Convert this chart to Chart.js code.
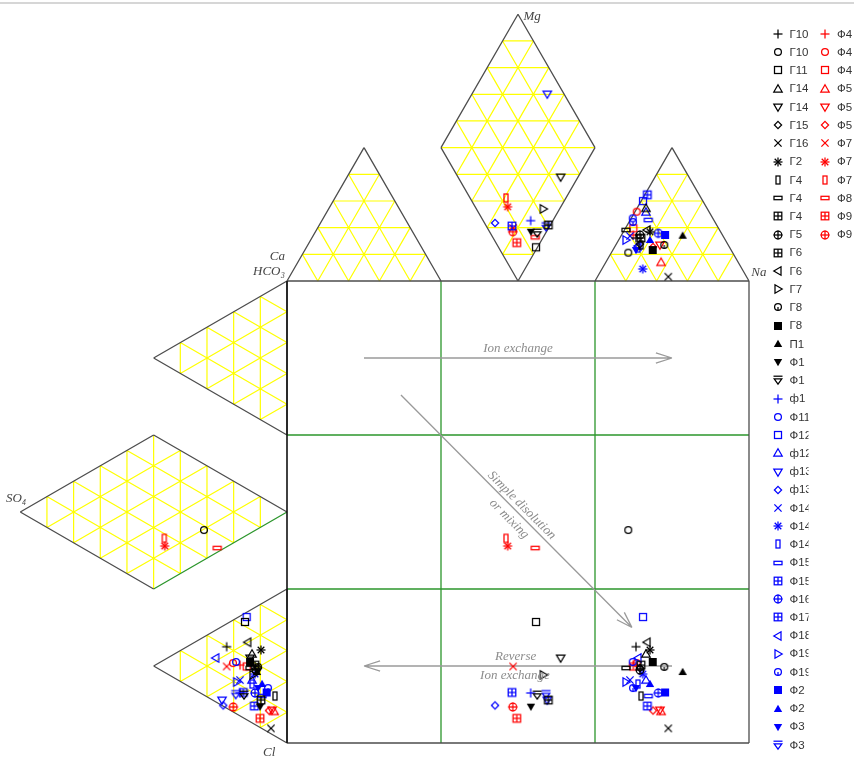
<!DOCTYPE html>
<html>
<head>
<meta charset="utf-8">
<script src="https://cdn.jsdelivr.net/npm/chart.js@4/dist/chart.umd.min.js"></script>
<style>
html, body { margin: 0; padding: 0; background: #fff; }
canvas { display: block; }
</style>
</head>
<body>
<canvas id="durov" width="854" height="765"></canvas>
<script>
// sample names (legend order: black group, blue group, red group)
var names = ["Г10", "Г10", "Г11", "Г14", "Г14", "Г15", "Г16", "Г2", "Г4", "Г4",
    "Г4", "Г5", "Г6", "Г6", "Г7", "Г8", "Г8", "П1", "Ф1", "Ф1",
    "ф1", "Ф11", "Ф12", "ф12", "ф13", "ф13", "Ф14", "Ф14", "Ф14", "Ф15",
    "Ф15", "Ф16", "Ф17", "Ф18", "Ф19", "Ф19", "Ф2", "Ф2", "Ф3", "Ф3",
    "Ф4", "Ф4", "Ф4", "Ф5", "Ф5", "Ф5", "Ф7", "Ф7", "Ф7", "Ф8", "Ф9", "Ф9"];
var groupColors = ["#000000", "#0000ff", "#ff0000"];
var groupSizes = [20, 20, 12];
var symbolCycle = ["plus", "circle", "square", "triUp", "triDown", "diamond", "cross", "asterisk", "tallRect", "wideRect",
    "squarePlus", "circlePlus", "squarePlus", "triLeft", "triRight", "circleTick", "fillSquare", "fillTriUp", "fillTriDown", "triDownBar"];

// cation point (top panels), diagram units: square = 0..300 on both axes
var catX = [226.6, 221.6, 161.7, 233.1, 177.7, 229.2, 247.6, 235.7, 229.9, 220.1,
    169.7, 229.2, 229.9, 233.8, 166.4, 245.0, 237.5, 256.9, 158.4, 162.5,
    158.2, 224.5, 231.2, 233.1, 169.0, 135.1, 222.7, 231.0, 227.9, 234.6,
    146.1, 241.1, 234.0, 227.9, 220.1, 224.7, 245.5, 235.7, 226.6, 168.2,
    224.9, 227.1, 224.9, 242.9, 242.2, 237.7, 146.8, 143.3, 142.2, 161.2, 149.2, 146.6];
var catY = [327.9, 318.4, 321.9, 347.2, 367.5, 324.0, 302.8, 332.0, 323.4, 333.1,
    336.4, 329.9, 327.9, 333.1, 346.8, 323.4, 320.1, 329.4, 332.0, 331.2,
    339.2, 340.7, 351.9, 344.8, 421.4, 337.7, 329.2, 307.8, 321.4, 339.6,
    335.7, 331.0, 356.0, 322.7, 326.6, 338.3, 329.9, 326.6, 320.1, 335.3,
    329.9, 345.0, 334.2, 312.1, 323.4, 322.1, 334.4, 348.2, 353.9, 328.4, 324.9, 332.0];
// anion point (left panels)
var anX = [-39.2, -53.9, -27.3, -22.7, -24.0, -18.8, -10.4, -16.9, -7.8, -24.0,
    -16.9, -20.1, -20.8, -25.5, -22.1, -18.8, -24.0, -19.5, -17.5, -27.9,
    -30.5, -33.1, -26.2, -22.7, -42.2, -41.4, -30.5, -20.8, -22.7, -16.2,
    -28.4, -20.8, -21.2, -46.3, -32.7, -12.3, -13.2, -16.2, -18.8, -33.3,
    -30.5, -35.1, -26.2, -8.4, -9.7, -11.7, -39.2, -79.4, -79.7, -45.3, -17.5, -34.9];
var anY = [62.5, 138.3, 78.6, 57.8, 55.2, 48.7, 9.5, 60.4, 30.5, 48.7,
    27.9, 47.4, 50.6, 65.4, 44.2, 49.4, 52.6, 46.1, 23.6, 31.2,
    32.5, 52.6, 81.8, 40.9, 27.9, 24.4, 40.9, 44.8, 38.3, 30.5,
    32.8, 32.5, 24.0, 55.2, 39.6, 35.7, 32.8, 38.3, 35.7, 31.5,
    50.6, 51.9, 49.7, 20.5, 21.4, 21.1, 49.7, 127.9, 132.9, 126.6, 16.0, 23.4];

// panel geometry
var H = 100 * Math.sqrt(3) / 2;
var PX = 1.54; // pixels per diagram unit
var X_MIN = -287 / PX, X_MAX = 567 / PX, Y_MIN = -22 / PX, Y_MAX = 743 / PX;

var caTri = [[0, 300], [100, 300], [50, 300 + H]];
var mgUp = [[100, 300 + H], [200, 300 + H], [150, 300 + 2 * H]];
var mgDown = [[100, 300 + H], [200, 300 + H], [150, 300]];
var naTri = [[200, 300], [300, 300], [250, 300 + H]];
var hcoTri = [[0, 300], [0, 200], [-H, 250]];
var so4L = [[-H, 200], [-H, 100], [-2 * H, 150]];
var so4R = [[-H, 200], [-H, 100], [0, 150]];
var clTri = [[0, 100], [0, 0], [-H, 50]];

var lerp = (a, b, t) => [a[0] + (b[0] - a[0]) * t, a[1] + (b[1] - a[1]) * t];
var seg = (out, a, b) => {
    out.push({ x: a[0], y: a[1] }, { x: b[0], y: b[1] }, { x: NaN, y: NaN });
};
var triGrid = (tri, out) => {
    var a = tri[0], b = tri[1], c = tri[2];
    for (var k = 1; k < 5; k++) {
        var t = k / 5;
        seg(out, lerp(a, b, t), lerp(a, c, t));
        seg(out, lerp(b, a, t), lerp(b, c, t));
        seg(out, lerp(c, a, t), lerp(c, b, t));
    }
};
var outline = (pts, out) => {
    for (var i = 0; i < pts.length; i++) seg(out, pts[i], pts[(i + 1) % pts.length]);
};

var gridPts = [];
[caTri, mgUp, mgDown, naTri, hcoTri, so4L, so4R, clTri].forEach(t => triGrid(t, gridPts));
seg(gridPts, mgUp[0], mgUp[1]);
seg(gridPts, so4L[0], so4L[1]);

var framePts = [];
seg(framePts, [0, 0], [300, 0]);
seg(framePts, [300, 0], [300, 300]);
seg(framePts, [300, 300], [0, 300]);
outline(caTri, framePts);
outline(naTri, framePts);
outline([[150, 300], [100, 300 + H], [150, 300 + 2 * H], [200, 300 + H]], framePts);
outline(hcoTri, framePts);
outline(clTri, framePts);
seg(framePts, [0, 150], [-H, 200]);
seg(framePts, [-H, 200], [-2 * H, 150]);
seg(framePts, [-2 * H, 150], [-H, 100]);

var leftEdge = [];
seg(leftEdge, [0, 0], [0, 300]);

var greenPts = [];
seg(greenPts, [100, 0], [100, 300]);
seg(greenPts, [200, 0], [200, 300]);
seg(greenPts, [0, 100], [300, 100]);
seg(greenPts, [0, 200], [300, 200]);
seg(greenPts, [-H, 100], [0, 150]);

// process arrows: start, end
var arrows = [[[50, 250], [250, 250]], [[250, 50], [50, 50]], [[74, 226], [224, 75]]];
var arrowPts = [];
arrows.forEach(ar => {
    var p = ar[0], q = ar[1];
    var ang = Math.atan2(q[1] - p[1], q[0] - p[0]);
    var len = 11, spread = 18 * Math.PI / 180;
    seg(arrowPts, p, q);
    seg(arrowPts, q, [q[0] - len * Math.cos(ang - spread), q[1] - len * Math.sin(ang - spread)]);
    seg(arrowPts, q, [q[0] - len * Math.cos(ang + spread), q[1] - len * Math.sin(ang + spread)]);
});

var lineSet = (pts, color, width, order) => ({
    data: pts, showLine: true, borderColor: color, borderWidth: width,
    pointRadius: 0, pointHoverRadius: 0, spanGaps: false, order: order, clip: false
});

// marker images
var makeSymbol = (kind, color) => {
    var c = document.createElement('canvas');
    c.width = 12; c.height = 12;
    var g = c.getContext('2d');
    g.strokeStyle = color; g.fillStyle = color; g.lineWidth = 1.25;
    g.translate(6, 6);
    var poly = (pts, fill) => {
        g.beginPath();
        g.moveTo(pts[0][0], pts[0][1]);
        for (var i = 1; i < pts.length; i++) g.lineTo(pts[i][0], pts[i][1]);
        g.closePath();
        if (fill) g.fill(); else g.stroke();
    };
    var line = (x1, y1, x2, y2) => { g.beginPath(); g.moveTo(x1, y1); g.lineTo(x2, y2); g.stroke(); };
    var circ = r => { g.beginPath(); g.arc(0, 0, r, 0, 2 * Math.PI); g.stroke(); };
    switch (kind) {
        case "plus": line(-4.5, 0, 4.5, 0); line(0, -4.5, 0, 4.5); break;
        case "circle": circ(3.4); break;
        case "square": g.strokeRect(-3.5, -3.5, 7, 7); break;
        case "triUp": poly([[0, -4.2], [4.2, 3], [-4.2, 3]]); break;
        case "triDown": poly([[0, 4.2], [4.2, -3], [-4.2, -3]]); break;
        case "triLeft": poly([[-4.2, 0], [3, -4.2], [3, 4.2]]); break;
        case "triRight": poly([[4.2, 0], [-3, -4.2], [-3, 4.2]]); break;
        case "diamond": poly([[0, -3.6], [3.6, 0], [0, 3.6], [-3.6, 0]]); break;
        case "cross": line(-3.6, -3.6, 3.6, 3.6); line(-3.6, 3.6, 3.6, -3.6); break;
        case "asterisk": line(-4.5, 0, 4.5, 0); line(0, -4.5, 0, 4.5); line(-3.3, -3.3, 3.3, 3.3); line(-3.3, 3.3, 3.3, -3.3); break;
        case "tallRect": g.strokeRect(-2, -4, 4, 8); break;
        case "wideRect": g.strokeRect(-4, -1.7, 8, 3.4); break;
        case "squarePlus": g.strokeRect(-3.8, -3.8, 7.6, 7.6); line(-3.8, 0, 3.8, 0); line(0, -3.8, 0, 3.8); break;
        case "circlePlus": circ(3.8); line(-4.5, 0, 4.5, 0); line(0, -4.5, 0, 4.5); break;
        case "circleTick": circ(3.4); line(0, 0, 0, 3.4); break;
        case "fillSquare": g.fillRect(-4, -4, 8, 8); break;
        case "fillTriUp": poly([[0, -4.2], [4.2, 3], [-4.2, 3]], true); break;
        case "fillTriDown": poly([[0, 4.2], [4.2, -3], [-4.2, -3]], true); break;
        case "triDownBar": line(-4.5, -3.8, 4.5, -3.8); poly([[-3.8, -1.2], [3.8, -1.2], [0, 4.2]]); break;
    }
    return c;
};

var datasets = [];
var idx = 0;
groupSizes.forEach((n, gi) => {
    for (var j = 0; j < n; j++, idx++) {
        datasets.push({
            label: names[idx],
            data: [
                { x: catX[idx], y: catY[idx] },
                { x: anX[idx], y: anY[idx] },
                { x: catX[idx], y: anY[idx] }
            ],
            pointStyle: makeSymbol(symbolCycle[j], groupColors[gi]),
            pointRadius: 4, pointHoverRadius: 4, showLine: false, order: 0, clip: false
        });
    }
});
datasets.push(lineSet(arrowPts, "#9a9a9a", 1.3, 9));
datasets.push(lineSet(leftEdge, "#111111", 1.6, 9));
datasets.push(lineSet(framePts, "#4d4d4d", 1.3, 10));
datasets.push(lineSet(greenPts, "#2c962c", 1.3, 11));
datasets.push(lineSet(gridPts, "#ffff00", 1.2, 12));

// texts: [text, x, y, align, rotation(deg), colour, font]
var noteFont = 'italic 13px "Liberation Serif", serif';
var notes = [
    ["Ion exchange", 150, 256, "center", 0, "#8c8c8c", noteFont],
    ["Reverse", 148.5, 56, "center", 0, "#8c8c8c", noteFont],
    ["Ion exchange", 148, 43.5, "center", 0, "#8c8c8c", noteFont],
    ["Simple disolution", 152.4, 154.3, "center", 45, "#8c8c8c", noteFont],
    ["or mixing", 144.2, 145.5, "center", 45, "#8c8c8c", noteFont],
    ["Mg", 153.5, 472, "left", 0, "#444", noteFont],
    ["Ca", -1.3, 316, "right", 0, "#444", noteFont],
    ["HCO\u2083", -1.3, 306, "right", 0, "#444", noteFont],
    ["Na", 301.5, 305.5, "left", 0, "#444", noteFont],
    ["SO\u2084", -182.5, 158.5, "left", 0, "#444", noteFont],
    ["Cl", -15.6, -6.5, "left", 0, "#444", noteFont]
];

var paperPlugin = {
    id: 'paper',
    beforeDraw: (chart) => {
        var ctx = chart.ctx;
        ctx.save();
        ctx.fillStyle = "#fff";
        ctx.fillRect(0, 0, chart.width, chart.height);
        ctx.fillStyle = "#d6d6d6";
        ctx.fillRect(0, 2, chart.width, 2);
        ctx.restore();
    }
};

var notesPlugin = {
    id: 'notes',
    afterDatasetsDraw: (chart) => {
        var ctx = chart.ctx, xs = chart.scales.x, ys = chart.scales.y;
        ctx.save();
        ctx.textBaseline = "middle";
        notes.forEach(n => {
            ctx.save();
            ctx.translate(xs.getPixelForValue(n[1]), ys.getPixelForValue(n[2]));
            ctx.rotate(n[4] * Math.PI / 180);
            ctx.font = n[6];
            ctx.fillStyle = n[5];
            ctx.textAlign = n[3];
            ctx.fillText(n[0], 0, 0);
            ctx.restore();
        });
        ctx.restore();
    }
};

var legendRows = 40;
var sideLegend = {
    id: 'sideLegend',
    afterDraw: (chart) => {
        var ctx = chart.ctx;
        var items = chart.data.datasets.filter(d => d.label);
        ctx.save();
        ctx.font = '11.5px "Liberation Sans", sans-serif';
        ctx.fillStyle = "#333";
        ctx.textBaseline = "middle";
        items.forEach((d, i) => {
            var col = i < legendRows ? 0 : 1;
            var row = col ? i - legendRows : i;
            var sx = col ? 825 : 777.5, tx = col ? 837 : 789.5;
            var y = 34 + row * 18.23;
            ctx.drawImage(d.pointStyle, Math.round(sx - 6), Math.round(y - 6));
            ctx.save();
            ctx.beginPath();
            ctx.rect(tx - 1, y - 9, col ? 60 : 20, 18);
            ctx.clip();
            ctx.fillText(d.label, tx, y + 0.5);
            ctx.restore();
        });
        ctx.restore();
    }
};

var durov = new Chart(document.getElementById('durov'), {
    type: 'scatter',
    data: { datasets: datasets },
    options: {
        responsive: false,
        animation: false,
        layout: { padding: 0, autoPadding: false },
        plugins: { legend: { display: false }, tooltip: { enabled: false } },
        scales: {
            x: { type: 'linear', display: false, min: X_MIN, max: X_MAX },
            y: { type: 'linear', display: false, min: Y_MIN, max: Y_MAX }
        }
    },
    plugins: [paperPlugin, notesPlugin, sideLegend]
});
</script>
</body>
</html>
